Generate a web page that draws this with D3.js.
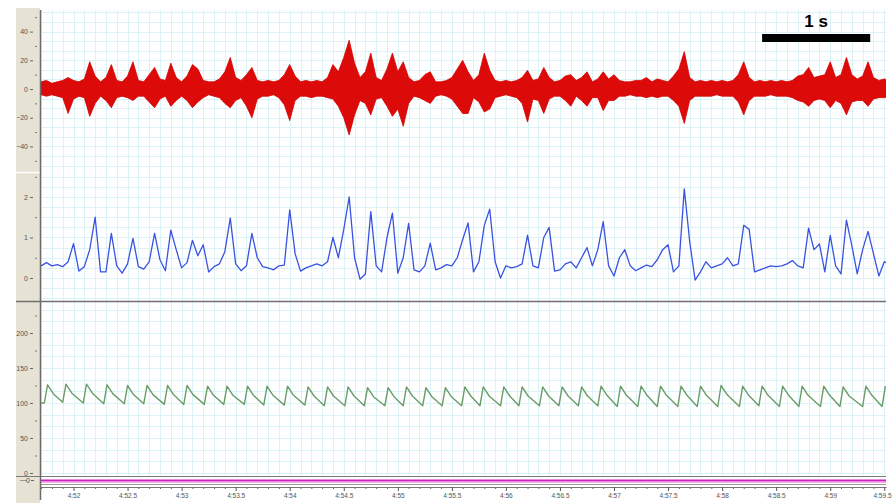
<!DOCTYPE html>
<html>
<head>
<meta charset="utf-8">
<script src="https://cdn.jsdelivr.net/npm/d3@7/dist/d3.min.js"></script>
<style>
body { margin: 0; background: #fff; }
svg { display: block; }
text { font-family: "Liberation Sans", Arial, sans-serif; }
</style>
</head>
<body>
<svg></svg>
<script>
// sample clock for the EMG envelope and the integrated trace (s after 4:00)
const sampleStart = 291.70;
const sampleStep = 0.05;

// raw EMG, upper / lower envelope per sample (µV)
const emgHi = [5,6,4,5,6,8,6,5,7,19, 9,5,8,17,6,5,9,19,6,5, 10,15,7,6,18,8,5,9,17,14,
    6,5,5,7,12,22,8,6,10,15, 6,5,6,5,6,10,17,9,5,6, 5,6,5,8,17,12,22,34,18,8,
    12,25,8,6,14,25,12,19,8,5, 6,10,12,5,5,6,8,14,20,12, 6,10,25,13,6,5,6,5,6,8,
    13,6,7,15,8,5,6,9,10,6, 8,12,5,7,12,7,10,6,5,5, 6,6,8,5,7,6,5,9,14,26,
    8,5,6,5,6,5,6,5,6,10, 19,8,5,6,5,6,5,6,5,6, 9,10,15,8,9,10,19,8,10,22, 10,7,9,19,8,6,7,6];
const emgLo = [-4,-5,-4,-5,-6,-17,-7,-5,-6,-19, -10,-5,-8,-13,-6,-5,-6,-8,-5,-5, -9,-13,-7,-5,-12,-8,-5,-8,-13,-9,
    -6,-4,-5,-6,-10,-13,-8,-6,-12,-20, -7,-5,-5,-4,-6,-11,-22,-8,-5,-5, -6,-5,-5,-6,-7,-12,-20,-32,-18,-8,
    -10,-18,-7,-6,-12,-19,-14,-26,-10,-5, -6,-8,-10,-5,-4,-5,-7,-12,-17,-17, -6,-9,-16,-14,-6,-5,-4,-5,-6,-10,
    -23,-7,-8,-17,-7,-5,-5,-8,-12,-5, -8,-12,-6,-6,-15,-8,-8,-5,-5,-4, -5,-5,-6,-5,-6,-5,-5,-8,-12,-24,
    -8,-5,-5,-5,-5,-4,-5,-5,-5,-9, -18,-8,-5,-5,-5,-4,-5,-5,-5,-6, -8,-9,-12,-8,-7,-8,-13,-8,-10,-18, -9,-8,-8,-12,-7,-6,-6,-5];

// integrated EMG per sample
const intVals = [0.30,0.38,0.30,0.33,0.28,0.40,0.85,0.17,0.28,0.70, 1.50,0.15,0.15,1.10,0.30,0.12,0.35,0.98,0.28,0.22,
    0.40,1.10,0.45,0.18,1.18,0.70,0.25,0.38,0.93,0.55, 0.82,0.15,0.28,0.35,0.65,1.48,0.35,0.18,0.30,1.10,
    0.50,0.28,0.25,0.20,0.30,0.32,1.68,0.60,0.17,0.25, 0.30,0.35,0.30,0.40,1.00,0.50,1.20,2.00,0.50,-0.03,
    0.10,1.64,0.30,0.15,1.00,1.60,0.12,0.50,1.35,0.20, 0.15,0.30,0.86,0.20,0.25,0.33,0.30,0.50,0.95,1.36,
    0.15,0.40,1.30,1.70,0.40,0.00,0.30,0.25,0.28,0.35, 1.06,0.30,0.25,1.00,1.25,0.17,0.20,0.35,0.40,0.25,
    0.50,0.75,0.30,0.70,1.39,0.30,0.05,0.50,0.70,0.30, 0.18,0.25,0.32,0.28,0.45,0.70,0.82,0.15,0.30,2.20,
    0.90,-0.05,0.15,0.40,0.25,0.30,0.35,0.50,0.30,0.35, 1.30,1.20,0.15,0.20,0.25,0.30,0.28,0.30,0.35,0.43,
    0.30,0.25,1.23,0.70,0.84,0.15,1.05,0.30,0.10,1.43, 0.80,0.10,0.70,1.15,0.60,0.05,0.40,0.35];

// blood pressure, one entry per beat
const bpPeakT = [291.76,291.93,292.12,292.31,292.50,292.68,292.87,293.05,293.24,293.42,293.61,293.79,293.98,
    294.17,294.35,294.54,294.72,294.91,295.08,295.26,295.44,295.62,295.79,295.98,296.15,296.34,296.52,296.70,
    296.88,297.06,297.25,297.43,297.62,297.80,297.99,298.19,298.37,298.56,298.74,298.94,299.12,299.33,299.51];
const bpSys = [126,127,127,126,125,125,125,125,124,124,124,124,124,123,123,123,122,122,123,122,122,123,
    123,123,123,123,123,123,124,124,124,124,124,124,125,124,124,124,124,124,123,124,124];
const bpDia = [100,101,100,99,99,99,98,98,98,98,98,97,97,97,96,96,96,96,96,96,96,96,96,96,96,96,96,96,96,
    95,95,95,95,95,95,95,96,95,95,95,95,95,95];
const bpNotch = [113,114,114,113,112,112,112,112,111,111,111,111,111,110,110,110,109,109,110,109,109,110,
    110,110,110,110,110,110,111,111,111,111,111,111,112,111,111,111,111,111,110,111,111];

// axis ticks
const emgTicks = [-40, -20, 0, 20, 40];
const emgMinor = [-50, -30, -10, 10, 30, 50];
const intTicks = [0, 1, 2];
const intMinor = [0.5, 1.5, 2.5];
const bpTicks = [0, 50, 100, 150, 200];
const bpMinor = [25, 75, 125, 175, 225];
const timeTicks = d3.range(292, 299.51, 0.5);
const timeMinor = d3.range(2917, 2996).map(d => d / 10);
const scaleBarStart = 298.37;

const w = 892;
const h = 503;
const svg = d3.select("svg").attr("width", w).attr("height", h).attr("viewBox", [0, 0, w, h]);

const x = d3.scaleLinear().domain([291.69, 299.516]).range([40, 886]);
const yE = d3.scaleLinear().domain([-57.8, 55.05]).range([172, 10]);
const yI = d3.scaleLinear().domain([-0.568, 2.617]).range([301, 172]);
const yB = d3.scaleLinear().domain([-4.3, 244.3]).range([476, 302]);

// background, label column
svg.append("rect").attr("width", w).attr("height", h).attr("fill", "white");
svg.append("rect").attr("x", 16).attr("y", 8).attr("width", 24).attr("height", 495).attr("fill", "#e6e2d4");

svg.append("defs").append("clipPath").attr("id", "plot")
    .append("rect").attr("x", 40).attr("y", 10).attr("width", 846).attr("height", 466);

// grid
const grid = svg.append("g").attr("stroke", "#dbf3f6").attr("stroke-width", 1);
grid.selectAll("line.v").data(timeMinor).join("line")
    .attr("x1", d => Math.round(x(d)) + 0.5).attr("x2", d => Math.round(x(d)) + 0.5)
    .attr("y1", 10).attr("y2", 476);
function hgrid(scale, vals) {
    grid.append("g").selectAll("line").data(vals).join("line")
        .attr("x1", 40).attr("x2", 886)
        .attr("y1", d => Math.round(scale(d)) + 0.5).attr("y2", d => Math.round(scale(d)) + 0.5);
}
hgrid(yE, d3.range(-8, 9).map(k => k * 20 / 3));
hgrid(yI, d3.range(-2, 11).map(k => k * 0.25));
hgrid(yB, d3.range(0, 15).map(k => k * 50 / 3));

// left axes
function leftAxis(scale, major, minor) {
    const g = svg.append("g").attr("transform", "translate(33,0)")
        .call(d3.axisLeft(scale).tickValues(major).tickSize(3).tickPadding(2).tickFormat(d3.format("d")));
    g.select(".domain").remove();
    g.selectAll("text").attr("font-size", 7).attr("fill", "#555").attr("font-family", "Liberation Sans, Arial, sans-serif");
    g.selectAll("line").attr("stroke", "#666");
    const m = svg.append("g").attr("transform", "translate(37,0)")
        .call(d3.axisLeft(scale).tickValues(minor).tickSize(2).tickFormat(""));
    m.select(".domain").remove();
    m.selectAll("line").attr("stroke", "#777");
}
leftAxis(yE, emgTicks, emgMinor.filter(d => d > -57 && d < 55));
leftAxis(yI, intTicks, intMinor);
leftAxis(yB, bpTicks, bpMinor);

// traces
const plot = svg.append("g").attr("clip-path", "url(#plot)");
const idx = d3.range(emgHi.length);
const tAt = i => sampleStart + i * sampleStep;

plot.append("path")
    .datum(idx)
    .attr("d", d3.area().x(i => x(tAt(i))).y0(i => yE(emgLo[i])).y1(i => yE(emgHi[i])))
    .attr("fill", "#dd0a0a")
    .attr("stroke", "#d40000")
    .attr("stroke-width", 0.8);

plot.append("path")
    .datum(intVals)
    .attr("d", d3.line().x((d, i) => x(tAt(i))).y(d => yI(d)))
    .attr("fill", "none")
    .attr("stroke", "#3a52e4")
    .attr("stroke-width", 1.3)
    .attr("stroke-linejoin", "round");

const bpPts = [{t: x.domain()[0], v: bpDia[0]}];
bpPeakT.forEach((t, k) => {
    bpPts.push({t: t - 0.03, v: bpDia[k]});
    bpPts.push({t: t, v: bpSys[k]});
    if (k < bpPeakT.length - 1) bpPts.push({t: t + 0.055, v: bpNotch[k]});
});
plot.append("path")
    .datum(bpPts)
    .attr("d", d3.line().x(d => x(d.t)).y(d => yB(d.v)))
    .attr("fill", "none")
    .attr("stroke", "#6a9c6a")
    .attr("stroke-width", 1.4)
    .attr("stroke-linejoin", "round");

// panel separators and the flat channel
svg.append("line").attr("x1", 16).attr("x2", 40).attr("y1", 172.5).attr("y2", 172.5)
    .attr("stroke", "white").attr("stroke-width", 1.5);
svg.append("line").attr("x1", 16).attr("x2", 886).attr("y1", 301.5).attr("y2", 301.5)
    .attr("stroke", "#6f6f6f").attr("stroke-width", 1.5);
svg.append("line").attr("x1", 16).attr("x2", 886).attr("y1", 476.5).attr("y2", 476.5)
    .attr("stroke", "#7a7a7a").attr("stroke-width", 1.2);
svg.append("rect").attr("x", 40).attr("y", 477).attr("width", 846).attr("height", 9).attr("fill", "white");
svg.append("line").attr("x1", 40).attr("x2", 886).attr("y1", 480.5).attr("y2", 480.5)
    .attr("stroke", "#d21fc4").attr("stroke-width", 2);
svg.append("line").attr("x1", 40).attr("x2", 886).attr("y1", 482.5).attr("y2", 482.5)
    .attr("stroke", "#f3a9ea").attr("stroke-width", 1);
svg.append("line").attr("x1", 40).attr("x2", 886).attr("y1", 484.5).attr("y2", 484.5)
    .attr("stroke", "#9a9a9a").attr("stroke-width", 1);
svg.append("line").attr("x1", 20).attr("x2", 27).attr("y1", 480.5).attr("y2", 480.5)
    .attr("stroke", "#888").attr("stroke-width", 0.8);
svg.append("text").attr("x", 30).attr("y", 483).attr("text-anchor", "end")
    .attr("font-size", 7).attr("fill", "#555").text("0");
svg.append("line").attr("x1", 31).attr("x2", 34).attr("y1", 480.5).attr("y2", 480.5)
    .attr("stroke", "#666");

// vertical axis line
svg.append("line").attr("x1", 40.5).attr("x2", 40.5).attr("y1", 10).attr("y2", 500)
    .attr("stroke", "#6b6b6b").attr("stroke-width", 1.5);

// time axis
const fmt = d => {
    const m = Math.floor(d / 60), s = d - m * 60;
    return m + ":" + (Number.isInteger(s) ? s : s.toFixed(1));
};
const xa = svg.append("g").attr("transform", "translate(0,487)")
    .call(d3.axisBottom(x).tickValues(timeTicks).tickSize(4).tickSizeOuter(0).tickPadding(2).tickFormat(fmt));
xa.select(".domain").attr("stroke", "#777");
xa.selectAll("line").attr("stroke", "#555");
xa.selectAll("text").attr("font-size", 6.5).attr("fill", "#555").attr("font-family", "Liberation Sans, Arial, sans-serif");
// last label sits against the right edge
xa.selectAll("text").filter(d => d === timeTicks[timeTicks.length - 1])
    .attr("text-anchor", "end").attr("dx", 891 - x(timeTicks[timeTicks.length - 1]));
const xm = svg.append("g").attr("transform", "translate(0,487)")
    .call(d3.axisBottom(x).tickValues(timeMinor.filter(d => Math.round(d * 10) % 5 !== 0)).tickSize(2).tickFormat(""));
xm.select(".domain").remove();
xm.selectAll("line").attr("stroke", "#666");

// 1 s scale bar
svg.append("rect")
    .attr("x", x(scaleBarStart)).attr("y", 34)
    .attr("width", x(scaleBarStart + 1) - x(scaleBarStart)).attr("height", 8)
    .attr("fill", "black");
svg.append("text")
    .attr("x", x(scaleBarStart + 0.5)).attr("y", 27)
    .attr("text-anchor", "middle")
    .attr("font-size", 17).attr("font-weight", "bold")
    .text("1 s");
</script>
</body>
</html>
